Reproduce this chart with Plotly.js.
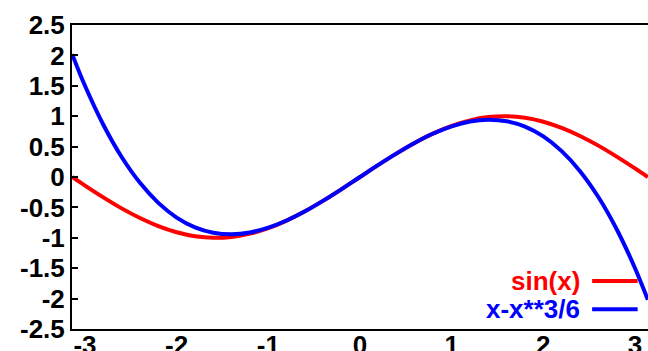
<!DOCTYPE html>
<html>
<head>
<meta charset="utf-8">
<script src="https://cdn.plot.ly/plotly-3.0.1.min.js"></script>
<style>html,body{margin:0;padding:0;background:#fff;}#chart{width:648px;height:351px;}</style>
</head>
<body>
<div id="chart"></div>
<script>
const xValues = [-3.14, -3.0, -2.8, -2.6, -2.4, -2.2, -2.0, -1.8, -1.6, -1.4, -1.2, -1.0, -0.8, -0.6, -0.4, -0.2, 0.0,
                 0.2, 0.4, 0.6, 0.8, 1.0, 1.2, 1.4, 1.6, 1.8, 2.0, 2.2, 2.4, 2.6, 2.8, 3.0, 3.14];
const sinValues = [0.00, -0.141, -0.335, -0.516, -0.675, -0.808, -0.909, -0.974, -1.000, -0.985, -0.932, -0.841, -0.717, -0.565, -0.389, -0.199, 0.0,
                   0.199, 0.389, 0.565, 0.717, 0.841, 0.932, 0.985, 1.000, 0.974, 0.909, 0.808, 0.675, 0.516, 0.335, 0.141, 0.00];
const taylorValues = [2.02, 1.50, 0.859, 0.329, -0.096, -0.425, -0.667, -0.828, -0.917, -0.943, -0.912, -0.833, -0.715, -0.564, -0.389, -0.199, 0.0,
                      0.199, 0.389, 0.564, 0.715, 0.833, 0.912, 0.943, 0.917, 0.828, 0.667, 0.425, 0.096, -0.329, -0.859, -1.50, -2.02];
const seriesNames = ["sin(x)", "x-x**3/6"];
const seriesColors = ["#ff0000", "#0000ff"];
const xTickVals = [-3, -2, -1, 0, 1, 2, 3];
const xTickText = ["-3", "-2", "-1", "0", "1", "2", "3"];
const yTickVals = [2.5, 2, 1.5, 1, 0.5, 0, -0.5, -1, -1.5, -2, -2.5];
const yTickText = ["2.5", "2", "1.5", "1", "0.5", "0", "-0.5", "-1", "-1.5", "-2", "-2.5"];

const fontFam = "Liberation Sans, Arial, sans-serif";
const traces = [
  {x: xValues, y: sinValues, mode: "lines", name: seriesNames[0], line: {color: seriesColors[0], width: 4, shape: "spline"}, showlegend: false},
  {x: xValues, y: taylorValues, mode: "lines", name: seriesNames[1], line: {color: seriesColors[1], width: 4, shape: "spline"}, showlegend: false}
];

const legendY = [0.158, 0.065];
const annotations = seriesNames.map((n, i) => ({
  xref: "paper", yref: "paper", x: 0.885, y: legendY[i], xanchor: "right", yanchor: "middle",
  text: "<b>" + n + "</b>", showarrow: false, font: {family: fontFam, size: 26, color: seriesColors[i]}
}));
const shapes = seriesNames.map((n, i) => ({
  type: "line", xref: "paper", yref: "paper", x0: 0.903, x1: 0.982, y0: legendY[i], y1: legendY[i],
  line: {color: seriesColors[i], width: 4}
}));

const layout = {
  width: 648, height: 351,
  margin: {l: 72, r: 0, t: 25, b: 22},
  paper_bgcolor: "#fff", plot_bgcolor: "#fff",
  showlegend: false,
  xaxis: {
    range: [-3.1416, 3.1416], tickvals: xTickVals, ticktext: xTickText,
    showgrid: false, zeroline: false, showline: true, mirror: true, linecolor: "#000", linewidth: 2,
    ticks: "", ticklabelstandoff: -8,
    tickfont: {family: fontFam, size: 26, color: "#000", weight: "bold"}
  },
  yaxis: {
    range: [-2.5, 2.5], tickvals: yTickVals, ticktext: yTickText,
    showgrid: false, zeroline: false, showline: true, mirror: false, linecolor: "#000", linewidth: 2,
    ticks: "inside", ticklen: 6, tickwidth: 2, tickcolor: "#000",
    tickfont: {family: fontFam, size: 26, color: "#000", weight: "bold"}
  },
  annotations: annotations,
  shapes: shapes
};
Plotly.newPlot("chart", traces, layout, {displayModeBar: false, staticPlot: true});
</script>
</body>
</html>
